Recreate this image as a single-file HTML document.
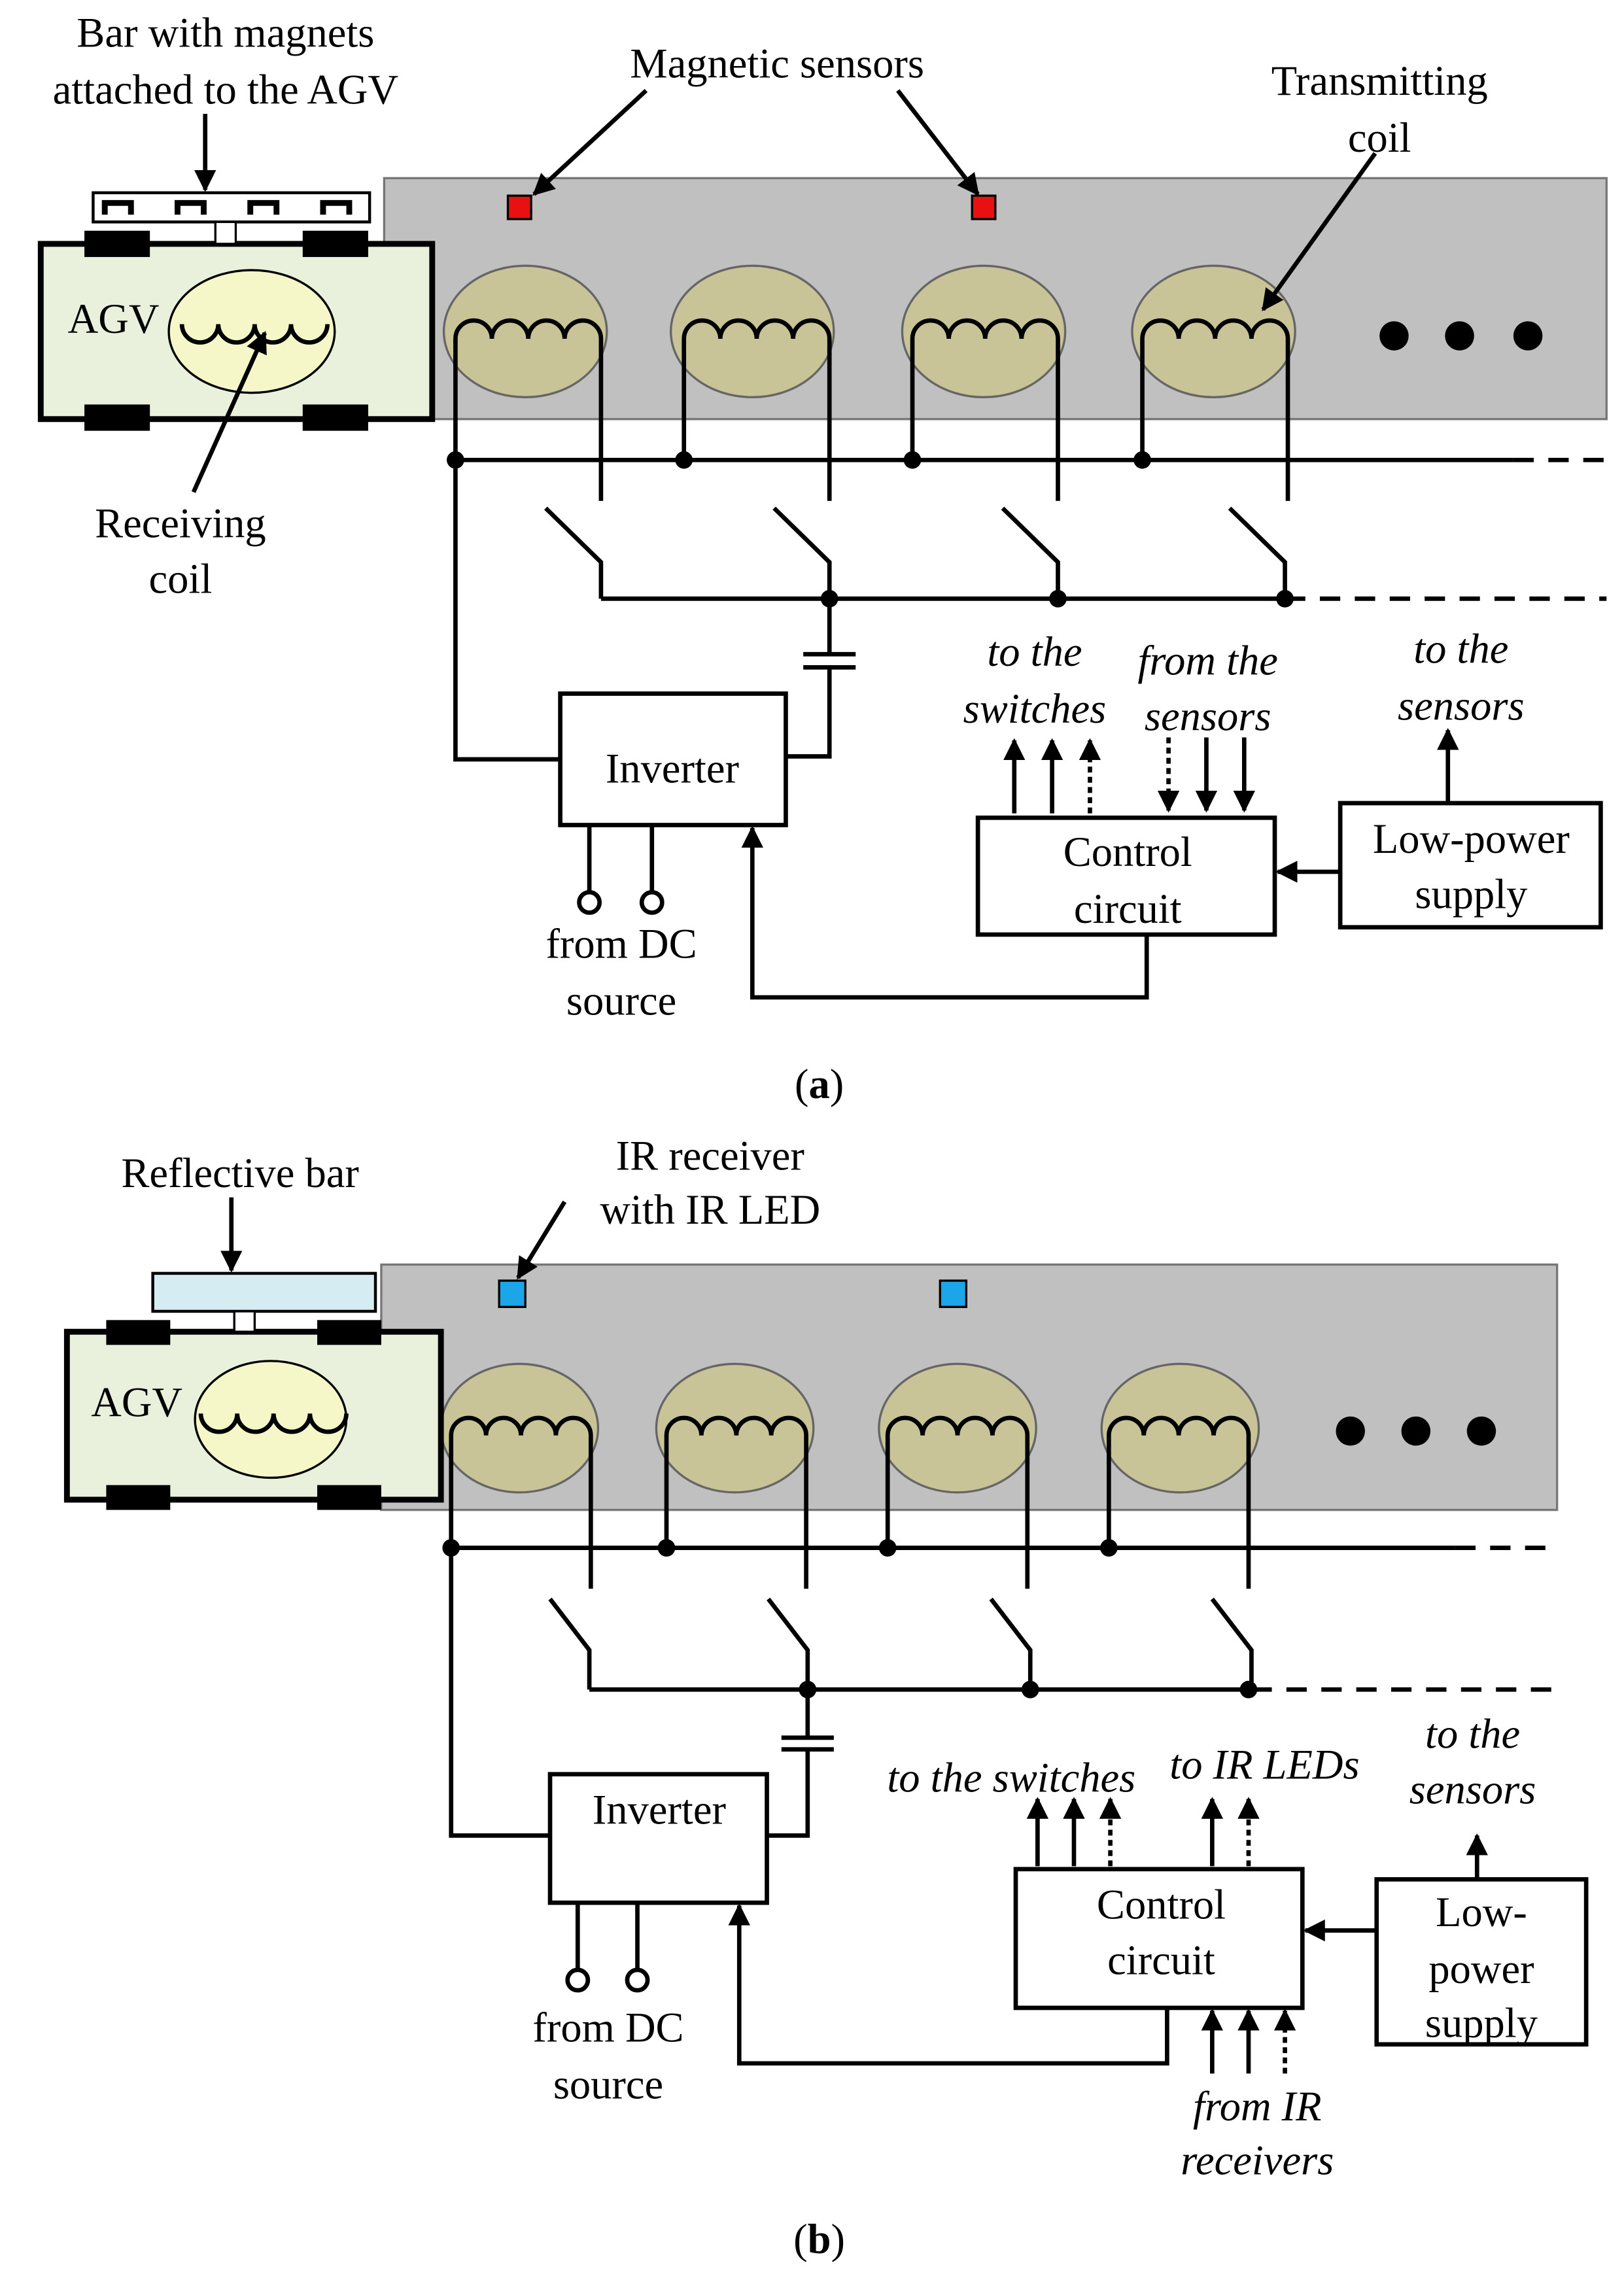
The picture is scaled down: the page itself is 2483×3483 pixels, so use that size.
<!DOCTYPE html>
<html><head><meta charset="utf-8"><style>html,body{margin:0;padding:0;background:#fff}svg{display:block}</style></head>
<body>
<svg width="2483" height="3483" viewBox="0 0 1116 1560" preserveAspectRatio="none" xmlns="http://www.w3.org/2000/svg" font-family="'Liberation Serif', serif" font-size="29">
<defs>
<marker id="ah" viewBox="0 0 10 10" refX="9" refY="5" markerWidth="5" markerHeight="5" orient="auto-start-reverse" markerUnits="strokeWidth"><path d="M0,0 L10,5 L0,10 z" fill="#000"/></marker>
</defs>
<g stroke="#000" stroke-width="3" fill="none">
<!-- ===== (a) ===== -->
<rect x="264" y="122" width="840" height="165" fill="#c0c0c0" stroke="#777" stroke-width="1.5"/>
<rect x="349" y="134" width="16" height="16" fill="#e81010" stroke-width="1.5"/>
<rect x="668" y="134" width="16" height="16" fill="#e81010" stroke-width="1.5"/>
<g fill="#c8c497" stroke="#666" stroke-width="1.5">
<ellipse cx="361" cy="227" rx="56" ry="45"/><ellipse cx="517" cy="227" rx="56" ry="45"/><ellipse cx="676" cy="227" rx="56" ry="45"/><ellipse cx="834" cy="227" rx="56" ry="45"/>
</g>
<g fill="#000" stroke="none"><circle cx="958" cy="230" r="10"/><circle cx="1003" cy="230" r="10"/><circle cx="1050" cy="230" r="10"/></g>
<path d="M313,315 V232 a12.5,12.5 0 0 1 25,0 a12.5,12.5 0 0 1 25,0 a12.5,12.5 0 0 1 25,0 a12.5,12.5 0 0 1 25,0 V343"/>
<path d="M470,315 V232 a12.5,12.5 0 0 1 25,0 a12.5,12.5 0 0 1 25,0 a12.5,12.5 0 0 1 25,0 a12.5,12.5 0 0 1 25,0 V343"/>
<path d="M627,315 V232 a12.5,12.5 0 0 1 25,0 a12.5,12.5 0 0 1 25,0 a12.5,12.5 0 0 1 25,0 a12.5,12.5 0 0 1 25,0 V343"/>
<path d="M785,315 V232 a12.5,12.5 0 0 1 25,0 a12.5,12.5 0 0 1 25,0 a12.5,12.5 0 0 1 25,0 a12.5,12.5 0 0 1 25,0 V343"/>
<rect x="28" y="167" width="269" height="120" fill="#e9f1dd" stroke-width="4"/>
<g fill="#000" stroke="none"><rect x="58" y="158" width="45" height="18"/><rect x="208" y="158" width="45" height="18"/><rect x="58" y="277" width="45" height="18"/><rect x="208" y="277" width="45" height="18"/></g>
<ellipse cx="173" cy="227" rx="57" ry="42" fill="#f5f7c9" stroke-width="1.5"/>
<path d="M125,222 a12.5,12.5 0 0 0 25,0 a12.5,12.5 0 0 0 25,0 a12.5,12.5 0 0 0 25,0 a12.5,12.5 0 0 0 25,0"/>
<rect x="64" y="132" width="190" height="20" fill="#fff" stroke-width="2"/>
<path d="M72,147 v-8 h18 v8 M122,147 v-8 h18 v8 M172,147 v-8 h18 v8 M222,147 v-8 h18 v8" stroke-width="4"/>
<rect x="148" y="152" width="14" height="15" fill="#fff" stroke-width="1.5"/>
<path d="M313,315 H1040"/><path d="M1040,315 H1104" stroke-dasharray="14,10"/>
<path d="M375,348 L413,385 V410 M532,348 L570,385 V410 M689,348 L727,385 V410 M845,348 L883,385 V410"/>
<path d="M413,410 H883"/><path d="M883,410 H1104" stroke-dasharray="14,10"/>
<path d="M570,410 V448 M552,448 H588 M552,457 H588 M570,457 V518 H540"/>
<path d="M313,315 V520 H385"/>
<rect x="385" y="475" width="155" height="90"/>
<path d="M405,565 V611 M448,565 V611"/>
<circle cx="405" cy="618" r="7" fill="#fff"/><circle cx="448" cy="618" r="7" fill="#fff"/>
<path d="M788,640 V683 H517 V567" marker-end="url(#ah)"/>
<rect x="672" y="560" width="204" height="80"/>
<rect x="921" y="550" width="179" height="85"/>
<path d="M921,597 H878" marker-end="url(#ah)"/>
<path d="M995,550 V500" marker-end="url(#ah)"/>
<path d="M697,557 V507" marker-end="url(#ah)"/>
<path d="M723,557 V507" marker-end="url(#ah)"/>
<path d="M749,557 V507" stroke-dasharray="4,3" marker-end="url(#ah)"/>
<path d="M803,505 V555" stroke-dasharray="4,3" marker-end="url(#ah)"/>
<path d="M829,505 V555" marker-end="url(#ah)"/>
<path d="M855,505 V555" marker-end="url(#ah)"/>
<path d="M141,78 V130" marker-end="url(#ah)"/>
<path d="M444,62 L367,133" marker-end="url(#ah)"/>
<path d="M617,62 L672,133" marker-end="url(#ah)"/>
<path d="M945,105 L868,212" marker-end="url(#ah)"/>
<path d="M133,337 L182,228" marker-end="url(#ah)"/>
<g fill="#000" stroke="none"><circle cx="313" cy="315" r="6"/><circle cx="470" cy="315" r="6"/><circle cx="627" cy="315" r="6"/><circle cx="785" cy="315" r="6"/><circle cx="570" cy="410" r="6"/><circle cx="727" cy="410" r="6"/><circle cx="883" cy="410" r="6"/></g>

<!-- ===== (b) ===== -->
<rect x="262" y="866" width="808" height="168" fill="#c0c0c0" stroke="#777" stroke-width="1.5"/>
<rect x="343" y="877" width="18" height="18" fill="#1aa6e8" stroke-width="1.5"/>
<rect x="646" y="877" width="18" height="18" fill="#1aa6e8" stroke-width="1.5"/>
<g fill="#c8c497" stroke="#666" stroke-width="1.5">
<ellipse cx="357" cy="978" rx="54" ry="44"/><ellipse cx="505" cy="978" rx="54" ry="44"/><ellipse cx="658" cy="978" rx="54" ry="44"/><ellipse cx="811" cy="978" rx="54" ry="44"/>
</g>
<g fill="#000" stroke="none"><circle cx="928" cy="980" r="10"/><circle cx="973" cy="980" r="10"/><circle cx="1018" cy="980" r="10"/></g>
<path d="M310,1060 V983 a12,12 0 0 1 24,0 a12,12 0 0 1 24,0 a12,12 0 0 1 24,0 a12,12 0 0 1 24,0 V1088"/>
<path d="M458,1060 V983 a12,12 0 0 1 24,0 a12,12 0 0 1 24,0 a12,12 0 0 1 24,0 a12,12 0 0 1 24,0 V1088"/>
<path d="M610,1060 V983 a12,12 0 0 1 24,0 a12,12 0 0 1 24,0 a12,12 0 0 1 24,0 a12,12 0 0 1 24,0 V1088"/>
<path d="M762,1060 V983 a12,12 0 0 1 24,0 a12,12 0 0 1 24,0 a12,12 0 0 1 24,0 a12,12 0 0 1 24,0 V1088"/>
<rect x="46" y="912" width="257" height="115" fill="#e9f1dd" stroke-width="4"/>
<g fill="#000" stroke="none"><rect x="73" y="904" width="44" height="17"/><rect x="218" y="904" width="44" height="17"/><rect x="73" y="1017" width="44" height="17"/><rect x="218" y="1017" width="44" height="17"/></g>
<ellipse cx="186" cy="972" rx="52" ry="40" fill="#f5f7c9" stroke-width="1.5"/>
<path d="M138,968 a12.5,12.5 0 0 0 25,0 a12.5,12.5 0 0 0 25,0 a12.5,12.5 0 0 0 25,0 a12.5,12.5 0 0 0 25,0"/>
<rect x="105" y="872" width="153" height="26" fill="#d5edf2" stroke-width="2"/>
<rect x="161" y="898" width="14" height="14" fill="#fff" stroke-width="1.5"/>
<path d="M310,1060 H1000"/><path d="M1000,1060 H1070" stroke-dasharray="14,10"/>
<path d="M378,1095 L405,1130 V1157 M528,1095 L555,1130 V1157 M681,1095 L708,1130 V1157 M833,1095 L860,1130 V1157"/>
<path d="M405,1157 H860"/><path d="M860,1157 H1070" stroke-dasharray="14,10"/>
<path d="M555,1157 V1190 M537,1190 H573 M537,1198 H573 M555,1198 V1257 H527"/>
<path d="M310,1060 V1257 H378"/>
<rect x="378" y="1215" width="149" height="88"/>
<path d="M397,1303 V1349 M438,1303 V1349"/>
<circle cx="397" cy="1356" r="7" fill="#fff"/><circle cx="438" cy="1356" r="7" fill="#fff"/>
<path d="M802,1375 V1413 H508 V1305" marker-end="url(#ah)"/>
<rect x="698" y="1280" width="197" height="95"/>
<rect x="946" y="1287" width="144" height="113"/>
<path d="M946,1322 H897" marker-end="url(#ah)"/>
<path d="M1015,1287 V1257" marker-end="url(#ah)"/>
<path d="M713,1278 V1232" marker-end="url(#ah)"/>
<path d="M738,1278 V1232" marker-end="url(#ah)"/>
<path d="M833,1278 V1232" marker-end="url(#ah)"/>
<path d="M763,1278 V1232" stroke-dasharray="4,3" marker-end="url(#ah)"/>
<path d="M858,1278 V1232" stroke-dasharray="4,3" marker-end="url(#ah)"/>
<path d="M833,1420 V1377" marker-end="url(#ah)"/>
<path d="M858,1420 V1377" marker-end="url(#ah)"/>
<path d="M883,1420 V1377" stroke-dasharray="4,3" marker-end="url(#ah)"/>
<path d="M159,820 V870" marker-end="url(#ah)"/>
<path d="M388,823 L356,875" marker-end="url(#ah)"/>
<g fill="#000" stroke="none"><circle cx="310" cy="1060" r="6"/><circle cx="458" cy="1060" r="6"/><circle cx="610" cy="1060" r="6"/><circle cx="762" cy="1060" r="6"/><circle cx="555" cy="1157" r="6"/><circle cx="708" cy="1157" r="6"/><circle cx="858" cy="1157" r="6"/></g>
</g>

<g fill="#000" text-anchor="middle">
<text x="155" y="32">Bar with magnets</text>
<text x="155" y="71">attached to the AGV</text>
<text x="534" y="53">Magnetic sensors</text>
<text x="948" y="65">Transmitting</text>
<text x="948" y="104">coil</text>
<text x="78" y="228">AGV</text>
<text x="124" y="368">Receiving</text>
<text x="124" y="406">coil</text>
<text x="462" y="536">Inverter</text>
<text x="775" y="593">Control</text>
<text x="775" y="632">circuit</text>
<text x="1011" y="584">Low-power</text>
<text x="1011" y="622">supply</text>
<text x="427" y="656">from DC</text>
<text x="427" y="695">source</text>
<g font-style="italic">
<text x="711" y="456">to the</text>
<text x="711" y="495">switches</text>
<text x="830" y="462">from the</text>
<text x="830" y="500">sensors</text>
<text x="1004" y="454">to the</text>
<text x="1004" y="493">sensors</text>
</g>
<text x="563" y="752"><tspan>(</tspan><tspan font-weight="bold">a</tspan><tspan>)</tspan></text>

<text x="165" y="813">Reflective bar</text>
<text x="488" y="801">IR receiver</text>
<text x="488" y="838">with IR LED</text>
<text x="94" y="970">AGV</text>
<text x="453" y="1249">Inverter</text>
<text x="798" y="1314">Control</text>
<text x="798" y="1352">circuit</text>
<text x="1018" y="1319">Low-</text>
<text x="1018" y="1358">power</text>
<text x="1018" y="1395">supply</text>
<text x="418" y="1398">from DC</text>
<text x="418" y="1437">source</text>
<g font-style="italic">
<text x="695" y="1227">to the switches</text>
<text x="869" y="1218">to IR LEDs</text>
<text x="1012" y="1197">to the</text>
<text x="1012" y="1235">sensors</text>
<text x="864" y="1452">from IR</text>
<text x="864" y="1489">receivers</text>
</g>
<text x="563" y="1543"><tspan>(</tspan><tspan font-weight="bold">b</tspan><tspan>)</tspan></text>
</g>
</svg>
</body></html>
